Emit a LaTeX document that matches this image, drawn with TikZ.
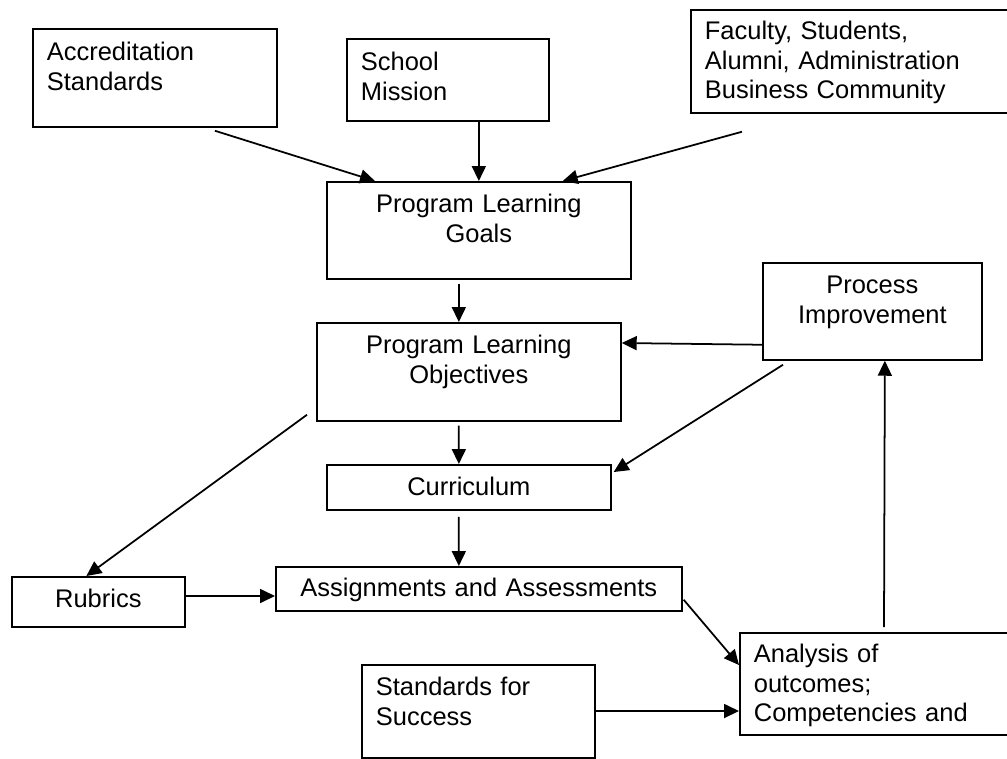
\documentclass[tikz,border=0pt]{standalone}
\usepackage{fontspec}
\setmainfont{Liberation Sans}
\usetikzlibrary{arrows.meta}
\tikzset{every picture/.style={line width=1pt}}
\tikzset{
  box/.style={draw, anchor=north west, inner xsep=0.28cm, inner ysep=0pt,
    font=\fontsize{14.5}{16.8}\selectfont},
  arr/.style={-{Triangle[length=0.3cm,width=0.28cm]}}
}

\begin{document}
\begin{tikzpicture}[x=0.02cm, y=-0.02cm]
    % page frame, boxes on the right run past it
    \clip (0,0) rectangle (1007,758);

    % inputs
    \node[box, text width=4.32cm, text height=0.64cm, text depth=1.32cm, align=left] (acc) at (32,28) {Accreditation\\Standards};
    \node[box, text width=3.48cm, text height=0.64cm, text depth=1.0cm, align=left] (mission) at (346,38) {School\\Mission};
    \node[box, text width=6.04cm, text height=0.6cm, text depth=1.46cm, align=left] (stake) at (690,9) {Faculty, Students,\\Alumni, Administration\\Business Community};

    % main chain
    \node[box, text width=5.52cm, text height=0.62cm, text depth=1.32cm, align=center] (goals) at (326,181) {Program Learning\\Goals};
    \node[box, text width=5.52cm, text height=0.62cm, text depth=1.34cm, align=center] (obj) at (316,322) {Program Learning\\Objectives};
    \node[box, text width=5.12cm, text height=0.62cm, text depth=0.28cm, align=center] (curr) at (326,464) {Curriculum};
    \node[box, text width=7.56cm, text height=0.6cm, text depth=0.28cm, align=center] (assign) at (275,566) {Assignments and Assessments};

    % side boxes
    \node[box, text width=3.82cm, text height=0.62cm, text depth=1.32cm, align=center] (proc) at (762,262) {Process\\Improvement};
    \node[box, text width=2.9cm, text height=0.62cm, text depth=0.38cm, align=center] (rub) at (11,576) {Rubrics};
    \node[box, text width=4.1cm, text height=0.62cm, text depth=1.24cm, align=left] (std) at (361,664) {Standards for\\Success};
    \node[box, text width=5.26cm, text height=0.6cm, text depth=1.44cm, align=left] (anal) at (739,632) {Analysis of\\outcomes;\\Competencies and};

    % arrows into the goals
    \draw[arr] ([shift={(60,3)}]acc.south) -- ([shift={(49,0)}]goals.north west);
    \draw[arr] (mission.south -| goals.north) -- (goals.north);
    \draw[arr] ([shift={(52,18)}]stake.south west) -- ([shift={(-69,0)}]goals.north east);

    % down the chain
    \draw[arr] ([shift={(-20,4)}]goals.south) -- ([shift={(-10,0)}]obj.north);
    \draw[arr] ([shift={(-10,4)}]obj.south) -- ([shift={(-10,0)}]curr.north);
    \draw[arr] ([shift={(-10,6)}]curr.south) -- ([shift={(-20,0)}]assign.north);

    % rubrics
    \draw[arr] ([shift={(-9,-7)}]obj.south west) -- ([shift={(-12,0)}]rub.north);
    \draw[arr] ([shift={(0,20)}]rub.north east) -- ([shift={(0,30)}]assign.north west);

    % analysis and feedback loop
    \draw[arr] ([shift={(1,-12)}]assign.south east) -- ([shift={(0,33)}]anal.north west);
    \draw[arr] ([shift={(0,47)}]std.north east) -- ([shift={(0,79)}]anal.north west);
    \draw[arr] ([shift={(145,-5)}]anal.north west) -- ([shift={(12.5,0)}]proc.south);
    \draw[arr] ([shift={(0,-16)}]proc.south west) -- ([shift={(0,21)}]obj.north east);
    \draw[arr] ([shift={(21,4)}]proc.south west) -- ([shift={(2,8)}]curr.north east);
\end{tikzpicture}
\end{document}
